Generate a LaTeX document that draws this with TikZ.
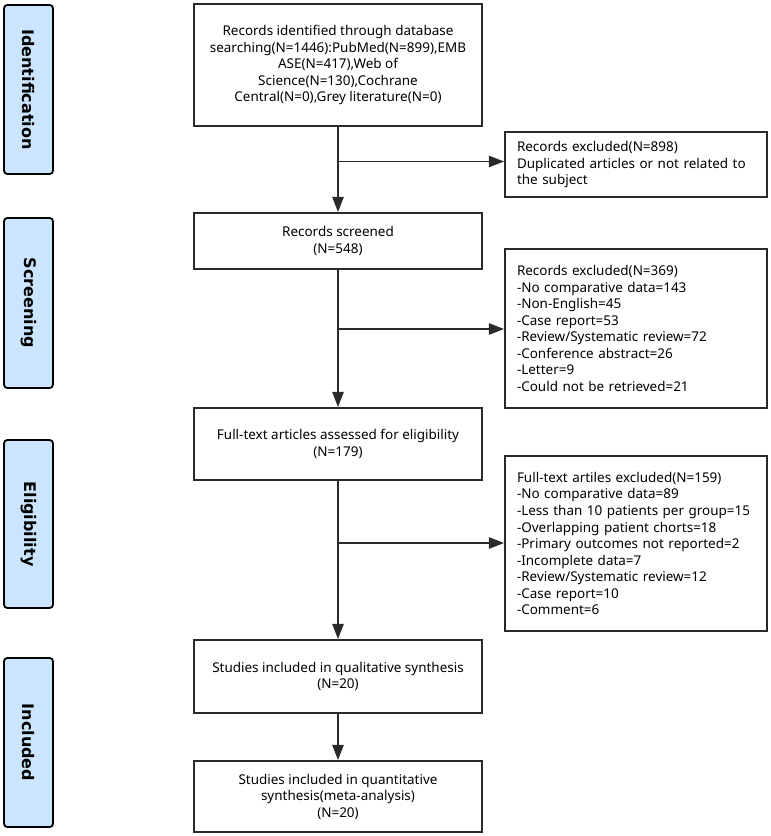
\documentclass[tikz,border=0pt]{standalone}
\usepackage{fontspec}
\setmainfont{Noto Sans}
\newfontfamily\sidefont{DejaVu Sans}
\usetikzlibrary{arrows.meta,positioning}
\definecolor{sideblue}{HTML}{CCE5FF}
\definecolor{linecol}{HTML}{2A2A2A}
\tikzset{
  every picture/.style={x=0.75pt,y=-0.75pt},
  box/.style={draw=linecol,line width=1.35pt,rectangle,align=center,inner sep=0pt,
    minimum width=216pt,font=\fontsize{10.1}{12.4}\selectfont},
  rbox/.style={draw=linecol,line width=1.35pt,rectangle,align=left,inner xsep=9pt,inner ysep=0pt,
    text width=178.5pt,font=\fontsize{10.1}{12.4}\selectfont},
  side/.style={draw=black,line width=1.35pt,fill=sideblue,rounded corners=2.5pt,
    minimum height=36.75pt,inner sep=0pt,rotate=-90,
    font=\sidefont\bfseries\fontsize{12}{14}\selectfont},
  conn/.style={draw=linecol,line width=1.35pt},
  arr/.style={conn,-{Triangle[length=11.5pt,width=8.5pt]}}
}
\begin{document}
\begin{tikzpicture}
\useasboundingbox (0,0) rectangle (771,836);
% side labels
\node[side,minimum width=126.75pt] (sid) at (28.5,89.5) {Identification};
\node[side,minimum width=127.5pt] (ssc) at (28.5,303) {Screening};
\node[side,minimum width=126pt] (sel) at (28.5,524) {Eligibility};
\node[side,minimum width=126.75pt] (sin) at (28.5,742.5) {Included};
% main boxes
\node[box,minimum height=91.5pt] (b1) at (338,65)
  {Records identified through database\\searching(N=1446):PubMed(N=899),EMB\\ASE(N=417),Web of\\Science(N=130),Cochrane\\Central(N=0),Grey literature(N=0)};
\node[box,minimum height=42pt] (b2) at (338,241)
  {Records screened\\(N=548)};
\node[box,minimum height=54pt] (b3) at (338,444)
  {Full-text articles assessed for eligibility\\(N=179)};
\node[box,minimum height=54.75pt] (b4) at (338,676.5)
  {Studies included in qualitative synthesis\\(N=20)};
\node[box,minimum height=53.25pt] (b5) at (338,796.5)
  {Studies included in quantitative\\synthesis(meta-analysis)\\(N=20)};
% right boxes
\node[rbox,minimum height=48.75pt] (r1) at (636,164.5)
  {Records excluded(N=898)\\Duplicated articles or not related to\\the subject};
\node[rbox,minimum height=119.25pt] (r2) at (636,328.5)
  {Records excluded(N=369)\\-No comparative data=143\\-Non-English=45\\-Case report=53\\-Review/Systematic review=72\\-Conference abstract=26\\-Letter=9\\-Could not be retrieved=21};
\node[rbox,minimum height=131.25pt] (r3) at (636,543.5)
  {Full-text artiles excluded(N=159)\\-No comparative data=89\\-Less than 10 patients per group=15\\-Overlapping patient chorts=18\\-Primary outcomes not reported=2\\-Incomplete data=7\\-Review/Systematic review=12\\-Case report=10\\-Comment=6};
% connectors
\draw[arr] (b1) -- (b2);
\draw[arr] (b2) -- (b3);
\draw[arr] (b3) -- (b4);
\draw[arr] (b4) -- (b5);
\coordinate (j1) at (b1.south |- 0,161.5);
\coordinate (j2) at (b2.south |- 0,329);
\coordinate (j3) at (b3.south |- 0,543);
\draw[arr] (j1) -- (j1 -| r1.west);
\draw[arr] (j2) -- (j2 -| r2.west);
\draw[arr] (j3) -- (j3 -| r3.west);
\end{tikzpicture}
\end{document}
